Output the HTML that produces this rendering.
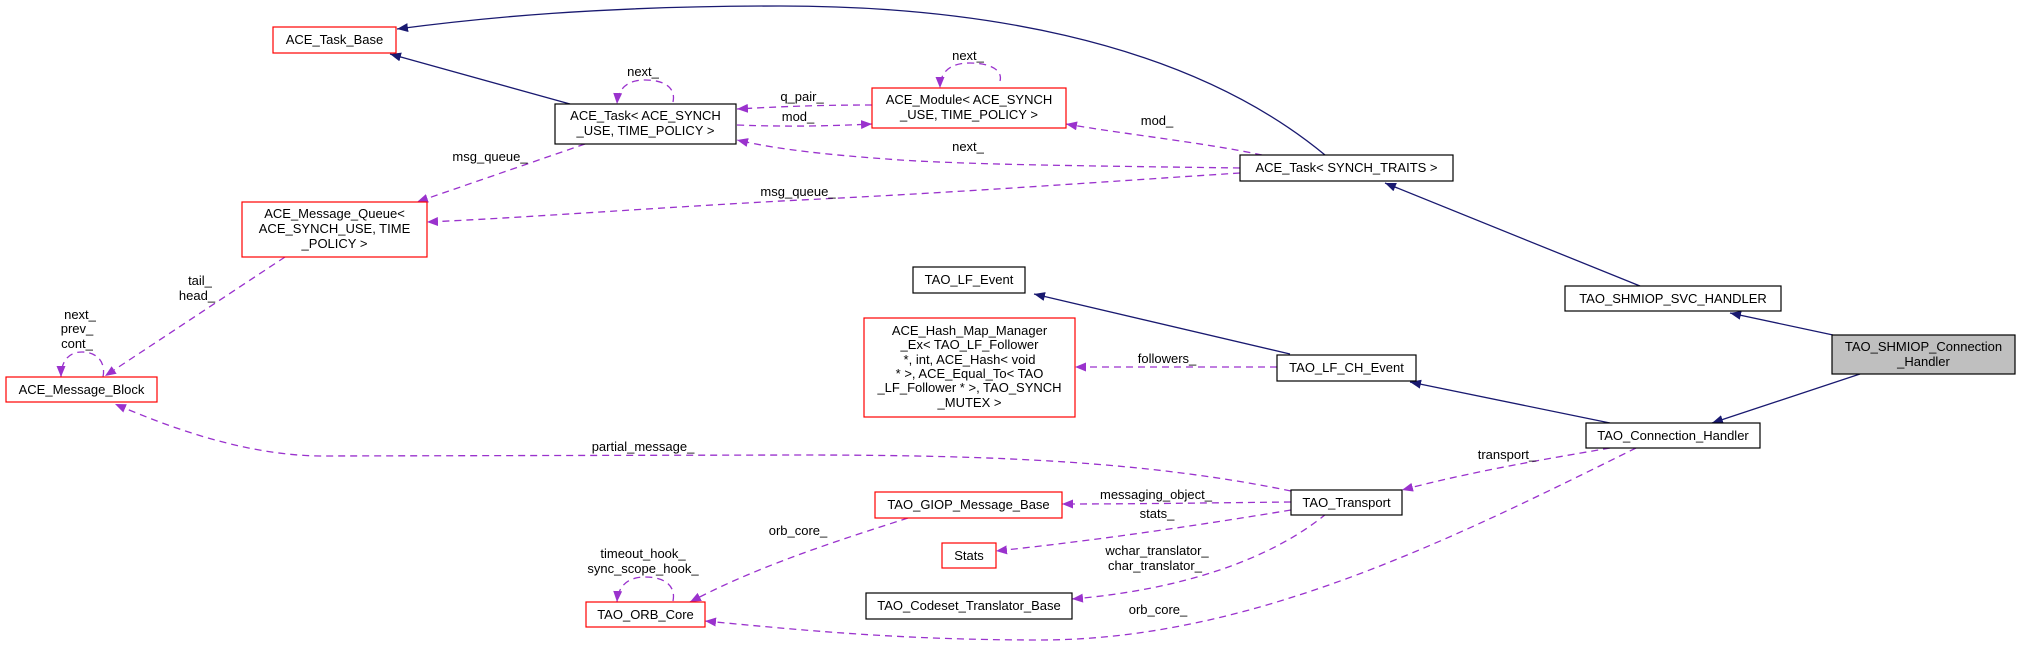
<!DOCTYPE html>
<html><head><meta charset="utf-8"><style>
html,body{margin:0;padding:0;background:#fff;}
svg{display:block;}
text{font-family:"Liberation Sans",Arial,sans-serif;font-size:13px;fill:#000;}
.n{fill:#fff;stroke:#000;stroke-width:1.2;}
.r{fill:#fff;stroke:#ff0000;stroke-width:1.2;}
.g{fill:#bfbfbf;stroke:#000;stroke-width:1.2;}
.s{fill:none;stroke:#191970;stroke-width:1.3;}
.d{fill:none;stroke:#9a32cd;stroke-width:1.3;stroke-dasharray:7,5;}
</style></head><body>
<svg width="2021" height="648" viewBox="0 0 2021 648" xmlns="http://www.w3.org/2000/svg">
<defs>
<marker id="an" markerUnits="userSpaceOnUse" markerWidth="12" markerHeight="10" refX="11" refY="4.5" orient="auto"><path d="M0,0 L11,4.5 L0,9 z" fill="#191970"/></marker>
<marker id="ap" markerUnits="userSpaceOnUse" markerWidth="12" markerHeight="10" refX="11" refY="4.5" orient="auto"><path d="M0,0 L11,4.5 L0,9 z" fill="#9a32cd"/></marker>
</defs>

<!-- solid inheritance edges -->
<path class="s" marker-end="url(#an)" d="M1325,155 C1180,35 960,6 780,6 C600,6 480,18 397,29"/>
<path class="s" marker-end="url(#an)" d="M570,104 L390,54"/>
<path class="s" marker-end="url(#an)" d="M1640,286 L1385,183"/>
<path class="s" marker-end="url(#an)" d="M1833,335 L1730,313"/>
<path class="s" marker-end="url(#an)" d="M1860,374 L1712,423"/>
<path class="s" marker-end="url(#an)" d="M1610,423 L1410,382"/>
<path class="s" marker-end="url(#an)" d="M1290,354 L1034,294"/>

<!-- dashed usage edges -->
<path class="d" marker-end="url(#ap)" d="M673,102 C676,88 665,80 645,80 C628,80 618,88 617,104"/>
<path class="d" marker-end="url(#ap)" d="M872,105 C830,105 790,106 737,109"/>
<path class="d" marker-end="url(#ap)" d="M737,125 C790,127 830,126 872,124"/>
<path class="d" marker-end="url(#ap)" d="M1000,81 C1003,70 990,63 970,63 C950,63 940,72 940,88"/>
<path class="d" marker-end="url(#ap)" d="M1262,155 C1200,142 1130,135 1066,124"/>
<path class="d" marker-end="url(#ap)" d="M1240,168 C1100,166 980,165 900,160 C830,155 780,150 737,140"/>
<path class="d" marker-end="url(#ap)" d="M1240,173 C1100,182 950,193 800,200 C650,208 520,218 427,222"/>
<path class="d" marker-end="url(#ap)" d="M585,144 L417,202"/>
<path class="d" marker-end="url(#ap)" d="M285,257 L105,376"/>
<path class="d" marker-end="url(#ap)" d="M103,377 C106,362 97,352 82,352 C68,352 61,362 61,377"/>
<path class="d" marker-end="url(#ap)" d="M1291,491 C1150,462 1000,455 800,455 L320,456 C250,455 180,432 115,404"/>
<path class="d" marker-end="url(#ap)" d="M1291,502 C1200,503 1130,504 1062,504"/>
<path class="d" marker-end="url(#ap)" d="M1291,510 C1200,525 1100,540 996,551"/>
<path class="d" marker-end="url(#ap)" d="M1326,514 C1270,560 1180,590 1072,599"/>
<path class="d" marker-end="url(#ap)" d="M908,518 C840,540 760,565 690,602"/>
<path class="d" marker-end="url(#ap)" d="M673,601 C676,586 665,577 645,577 C628,577 618,586 617,602"/>
<path class="d" marker-end="url(#ap)" d="M1636,448 C1450,540 1250,640 1040,640 C900,640 800,630 705,621"/>
<path class="d" marker-end="url(#ap)" d="M1610,448 C1540,460 1470,472 1402,490"/>
<path class="d" marker-end="url(#ap)" d="M1277,367 L1075,367"/>

<!-- edge labels -->
<g text-anchor="middle">
<text x="643" y="76">next_</text>
<text x="802" y="101">q_pair_</text>
<text x="798" y="121">mod_</text>
<text x="968" y="60">next_</text>
<text x="1157" y="125">mod_</text>
<text x="968" y="151">next_</text>
<text x="798" y="196">msg_queue_</text>
<text x="490" y="161">msg_queue_</text>
<text x="200" y="285">tail_</text>
<text x="197" y="300">head_</text>
<text x="80" y="319">next_</text>
<text x="77" y="333">prev_</text>
<text x="77" y="348">cont_</text>
<text x="643" y="451">partial_message_</text>
<text x="1156" y="499">messaging_object_</text>
<text x="1157" y="518">stats_</text>
<text x="1157" y="555">wchar_translator_</text>
<text x="1155" y="570">char_translator_</text>
<text x="798" y="535">orb_core_</text>
<text x="643" y="558">timeout_hook_</text>
<text x="643" y="573">sync_scope_hook_</text>
<text x="1158" y="614">orb_core_</text>
<text x="1507" y="459">transport_</text>
<text x="1167" y="363">followers_</text>
</g>

<!-- nodes -->
<rect class="r" x="273" y="27" width="123" height="26"/>
<text x="334.5" y="44" text-anchor="middle">ACE_Task_Base</text>

<rect class="n" x="555" y="104" width="181" height="40"/>
<text x="645.5" y="120" text-anchor="middle">ACE_Task&lt; ACE_SYNCH</text>
<text x="645.5" y="135" text-anchor="middle">_USE, TIME_POLICY &gt;</text>

<rect class="r" x="872" y="88" width="194" height="40"/>
<text x="969" y="104" text-anchor="middle">ACE_Module&lt; ACE_SYNCH</text>
<text x="969" y="119" text-anchor="middle">_USE, TIME_POLICY &gt;</text>

<rect class="n" x="1240" y="155" width="213" height="26"/>
<text x="1346.5" y="172" text-anchor="middle">ACE_Task&lt; SYNCH_TRAITS &gt;</text>

<rect class="r" x="242" y="202" width="185" height="55"/>
<text x="334.5" y="218" text-anchor="middle">ACE_Message_Queue&lt;</text>
<text x="334.5" y="233" text-anchor="middle">ACE_SYNCH_USE, TIME</text>
<text x="334.5" y="248" text-anchor="middle">_POLICY &gt;</text>

<rect class="r" x="6" y="377" width="151" height="25"/>
<text x="81.5" y="394" text-anchor="middle">ACE_Message_Block</text>

<rect class="n" x="913" y="267" width="112" height="26"/>
<text x="969" y="284" text-anchor="middle">TAO_LF_Event</text>

<rect class="r" x="864" y="318" width="211" height="99"/>
<g text-anchor="middle">
<text x="969.5" y="335">ACE_Hash_Map_Manager</text>
<text x="969.5" y="349">_Ex&lt; TAO_LF_Follower</text>
<text x="969.5" y="364">*, int, ACE_Hash&lt; void</text>
<text x="969.5" y="378">* &gt;, ACE_Equal_To&lt; TAO</text>
<text x="969.5" y="392">_LF_Follower * &gt;, TAO_SYNCH</text>
<text x="969.5" y="407">_MUTEX &gt;</text>
</g>

<rect class="n" x="1277" y="355" width="139" height="26"/>
<text x="1346.5" y="372" text-anchor="middle">TAO_LF_CH_Event</text>

<rect class="n" x="1291" y="490" width="111" height="25"/>
<text x="1346.5" y="507" text-anchor="middle">TAO_Transport</text>

<rect class="r" x="875" y="492" width="187" height="26"/>
<text x="968.5" y="509" text-anchor="middle">TAO_GIOP_Message_Base</text>

<rect class="r" x="942" y="543" width="54" height="25"/>
<text x="969" y="560" text-anchor="middle">Stats</text>

<rect class="n" x="866" y="593" width="206" height="26"/>
<text x="969" y="610" text-anchor="middle">TAO_Codeset_Translator_Base</text>

<rect class="r" x="586" y="602" width="119" height="25"/>
<text x="645.5" y="619" text-anchor="middle">TAO_ORB_Core</text>

<rect class="n" x="1565" y="286" width="216" height="25"/>
<text x="1673" y="303" text-anchor="middle">TAO_SHMIOP_SVC_HANDLER</text>

<rect class="g" x="1832" y="335" width="183" height="39"/>
<text x="1923.5" y="351" text-anchor="middle">TAO_SHMIOP_Connection</text>
<text x="1923.5" y="366" text-anchor="middle">_Handler</text>

<rect class="n" x="1586" y="423" width="174" height="25"/>
<text x="1673" y="440" text-anchor="middle">TAO_Connection_Handler</text>
</svg>
</body></html>
